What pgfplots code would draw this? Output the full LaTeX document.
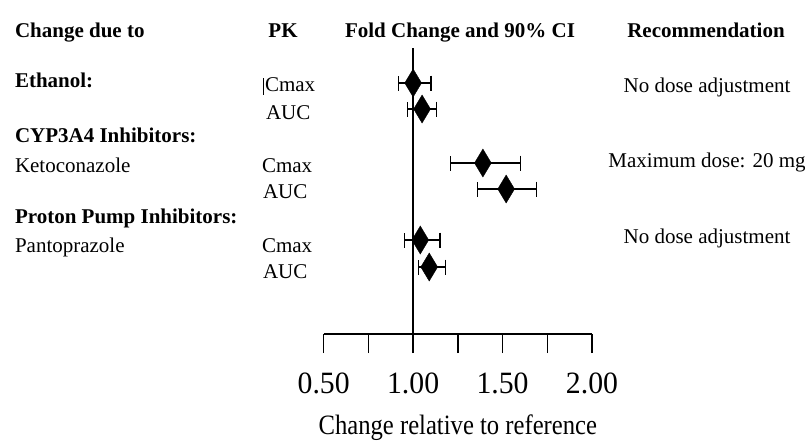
\documentclass[border=0pt]{standalone}
\usepackage{pgfplots}
\pgfplotsset{compat=1.18}
\usepackage{fontspec}
\setmainfont{Liberation Serif}
\newcommand{\tf}{\fontsize{21}{24}\selectfont}
\begin{document}
\begin{tikzpicture}
\path[use as bounding box] (0,0) rectangle (805pt,-440pt);
\begin{axis}[
  at={(323.7pt,-334pt)}, anchor=south west,
  scale only axis, width=268.3pt, height=286pt,
  xmin=0.5, xmax=2.0, ymin=-334, ymax=-48,
  enlargelimits=false,
  axis x line*=bottom, axis y line=none,
  x axis line style={-, line width=1.3pt},
  xtick={0.5,0.75,1,1.25,1.5,1.75,2},
  xticklabels={0.50,,1.00,,1.50,,2.00},
  tick align=outside, major tick length=19pt,
  tick style={black, line width=1.3pt},
  /pgf/number format/assume math mode=true,
  xticklabel style={font=\fontsize{31}{34}\selectfont, xscale=0.96, anchor=base, yshift=-40pt},
  xlabel={Change relative to reference},
  xlabel style={font=\fontsize{28}{32}\selectfont, xscale=0.88, at={(axis description cs:0.5,0)}, anchor=base, yshift=-100pt},
  clip=false,
]
\addplot[black, line width=1.3pt] coordinates {(1,-48) (1,-334)};
\addplot[only marks, mark=diamond*, mark size=14pt, mark options={black, fill=black, xscale=0.8},
  error bars/.cd, x dir=both, x explicit,
  error bar style={black, line width=1.3pt},
  error mark options={rotate=90, black, mark size=7.5pt, line width=1.3pt}]
  table[x=x, y=y, x error plus=ep, x error minus=em] {
x     y     ep    em
1.00  -83   0.10  0.08
1.05  -109  0.08  0.08
1.39  -163  0.21  0.18
1.52  -189  0.17  0.16
1.04  -240  0.11  0.09
1.09  -267  0.09  0.06
};
\end{axis}
\begin{scope}[every node/.style={inner sep=0pt, outer sep=0pt, font=\tf}]
\node[anchor=base west] at (15pt,-37pt) {\bfseries Change due to};
\node[anchor=base] at (283pt,-37pt) {\bfseries PK};
\node[anchor=base] at (460pt,-37pt) {\bfseries Fold Change and 90\% CI};
\node[anchor=base] at (706pt,-37pt) {\bfseries Recommendation};
\node[anchor=base west] at (15pt,-87pt) {\bfseries Ethanol:};
\node[anchor=base west] at (265pt,-91pt) {Cmax};
\node[anchor=base west] at (266pt,-119pt) {AUC};
\node[anchor=base west] at (15pt,-142pt) {\bfseries CYP3A4 Inhibitors:};
\node[anchor=base west] at (15pt,-172pt) {Ketoconazole};
\node[anchor=base west] at (262pt,-172pt) {Cmax};
\node[anchor=base west] at (263pt,-198pt) {AUC};
\node[anchor=base west] at (15pt,-223pt) {\bfseries Proton Pump Inhibitors:};
\node[anchor=base west] at (15pt,-252pt) {Pantoprazole};
\node[anchor=base west] at (262pt,-252pt) {Cmax};
\node[anchor=base west] at (263pt,-278pt) {AUC};
\node[anchor=base] at (707pt,-92pt) {No dose adjustment};
\node[anchor=base] at (707pt,-167pt) {Maximum dose: 20 mg};
\node[anchor=base] at (707pt,-243pt) {No dose adjustment};
\end{scope}
\draw[black, line width=0.9pt] (263pt,-78pt) -- (263pt,-95pt);
\end{tikzpicture}
\end{document}
